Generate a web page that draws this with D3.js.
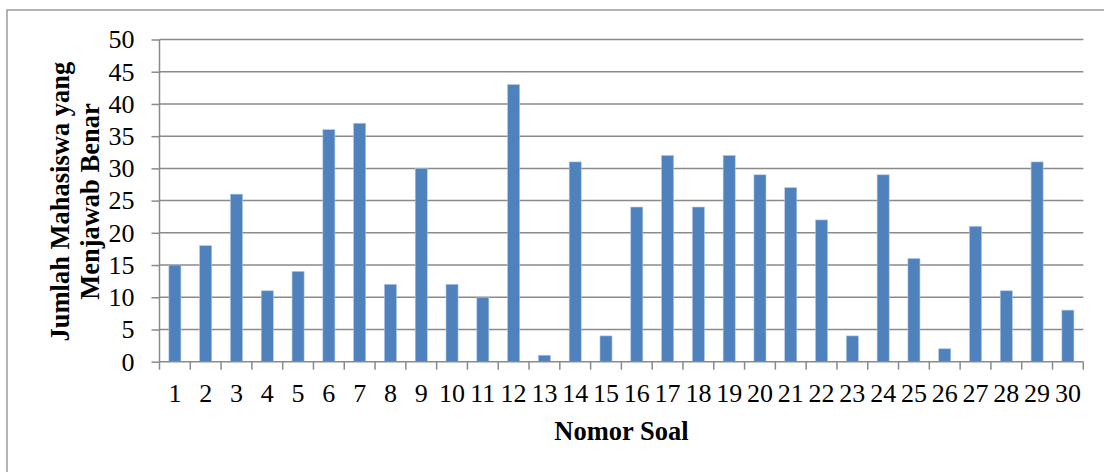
<!DOCTYPE html>
<html><head><meta charset="utf-8">
<script src="https://cdn.jsdelivr.net/npm/d3@7/dist/d3.min.js"></script>
<style>body{margin:0;background:#fff}svg{display:block}</style>
</head><body><svg id="c" width="1104" height="472"></svg>
<script>
const categories = d3.range(1,31).map(String);
const values = [15,18,26,11,14,36,37,12,30,12,10,43,1,31,4,24,32,24,32,29,27,22,4,29,16,2,21,11,31,8];
const yTicks = [0,5,10,15,20,25,30,35,40,45,50];
const yTitle = ["Jumlah Mahasiswa yang","Menjawab Benar"];
const xTitle = "Nomor Soal";

const FONT = '"Liberation Serif"';
const svg = d3.select("#c");
const L=159.5, R=1083.3, T=39.5, B=361.7;
const gridColor = "#8a8a8a";

svg.append("rect").attr("x",7).attr("y",10).attr("width",1200).attr("height",600)
  .attr("fill","none").attr("stroke","#8c8c8c").attr("stroke-width",1.3);

const x = d3.scaleBand().domain(categories).range([L,R]).paddingInner(0.61).paddingOuter(0.305);
const xb = d3.scaleBand().domain(categories).range([L,R]);
const y = d3.scaleLinear().domain([0,50]).range([B,T]);

svg.append("g").selectAll("line").data(yTicks.filter(d=>d>0)).join("line")
  .attr("x1",L).attr("x2",R).attr("y1",d=>y(d)).attr("y2",d=>y(d))
  .attr("stroke",gridColor).attr("stroke-width",1.5);

svg.append("g").selectAll("rect").data(values).join("rect")
  .attr("x",(d,i)=>x(categories[i])).attr("width",x.bandwidth())
  .attr("y",d=>y(d)).attr("height",d=>B-y(d))
  .attr("fill","#4f81bd").attr("stroke","#a9c3e3").attr("stroke-width",0.6);

const ya = svg.append("g").attr("transform",`translate(${L},0)`)
  .call(d3.axisLeft(y).tickValues(yTicks).tickSize(8).tickPadding(17));
ya.select(".domain").attr("stroke",gridColor).attr("stroke-width",1.5).attr("d",`M0,${T}V${B}`);
ya.selectAll(".tick line").attr("stroke",gridColor).attr("stroke-width",1.5);
ya.selectAll("text").style("font-family",FONT).style("font-size","26px").attr("fill","#000");

const xa = svg.append("g").attr("transform",`translate(0,${B})`)
  .call(d3.axisBottom(xb).tickSize(0).tickPadding(21.5));
xa.select(".domain").attr("stroke",gridColor).attr("stroke-width",1.5).attr("d",`M${L},0H${R}`);
xa.selectAll("text").style("font-family",FONT).style("font-size","26px").attr("fill","#000");
xa.append("g").selectAll("line").data(d3.range(0,31)).join("line")
  .attr("x1",i=>L+i*xb.bandwidth()).attr("x2",i=>L+i*xb.bandwidth())
  .attr("y1",0).attr("y2",8).attr("stroke",gridColor).attr("stroke-width",1.5);

svg.append("text").attr("x",(L+R)/2).attr("y",440).attr("text-anchor","middle")
  .style("font-family",FONT).style("font-weight","bold").style("font-size","26.5px").text(xTitle);
const yt = svg.append("text").attr("transform",`translate(0,${(T+B)/2+1}) rotate(-90)`)
  .attr("text-anchor","middle").style("font-family",FONT).style("font-weight","bold").style("font-size","26.5px");
yt.selectAll("tspan").data(yTitle).join("tspan").attr("x",0).attr("y",(d,i)=>69+i*30).text(d=>d);
</script></body></html>
